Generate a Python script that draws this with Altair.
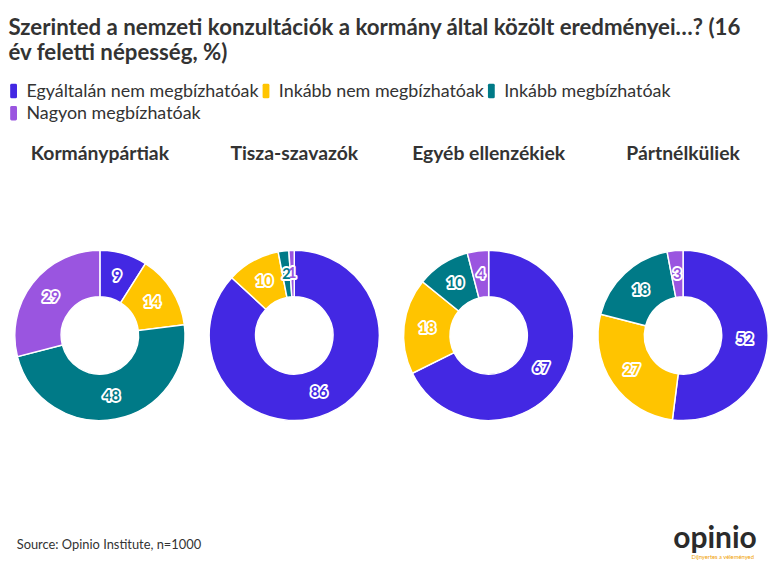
import altair as alt
import pandas as pd

groups = ["Kormánypártiak", "Tisza-szavazók", "Egyéb ellenzékiek", "Pártnélküliek"]
categories = ["Egyáltalán nem megbízhatóak", "Inkább nem megbízhatóak",
              "Inkább megbízhatóak", "Nagyon megbízhatóak"]
colors = ["#4328e3", "#ffc400", "#007a87", "#9a55e0"]
values_korm = [9, 14, 48, 29]
values_tisza = [86, 10, 2, 1]
values_ellenzek = [67, 18, 10, 4]
values_partnelkul = [52, 27, 18, 3]
all_values = [values_korm, values_tisza, values_ellenzek, values_partnelkul]

title_lines = ["Szerinted a nemzeti konzultációk a kormány által közölt eredményei…? (16",
               "év feletti népesség, %)"]
source_text = "Source: Opinio Institute, n=1000"
logo_text = "opinio"

FONT = "Lato"
color_scale = alt.Scale(domain=categories, range=colors)
# rounded tall rectangle, coordinates in the [-1, 1] box (shifted left)
legend_shape = ("M-1.0,-0.8 Q-1.0,-1 -0.8,-1 L-0.26,-1 Q-0.06,-1 -0.06,-0.8 "
                "L-0.06,0.8 Q-0.06,1 -0.26,1 L-0.8,1 Q-1.0,1 -1.0,0.8 Z")

panels = []
for gi, (g, vals) in enumerate(zip(groups, all_values)):
    df = pd.DataFrame({"category": categories, "value": vals, "order": list(range(4))})
    base = alt.Chart(df).encode(
        theta=alt.Theta("value:Q", stack=True),
        order=alt.Order("order:Q"),
        color=alt.Color("category:N", scale=color_scale, sort=categories,
                        legend=alt.Legend(title=None, orient="none", legendX=-6.5, legendY=-174,
                                          direction="horizontal",
                                          columns=3, labelFontSize=18.5, labelFont=FONT,
                                          labelColor="#333333", symbolType=legend_shape,
                                          symbolSize=225, symbolStrokeWidth=0,
                                          labelLimit=400, columnPadding=2, rowPadding=4,
                                          labelOffset=0, padding=0) if gi == 0 else None),
    )
    arc = base.mark_arc(innerRadius=40, outerRadius=88, stroke="white", strokeWidth=1.5)
    halo = base.mark_text(radius=64, fontSize=15, fontWeight="bold", font=FONT,
                          stroke="white", strokeWidth=4, strokeJoin="round").encode(
        text=alt.Text("value:Q"))
    txt = base.mark_text(radius=64, fontSize=15, fontWeight="bold", font=FONT).encode(
        text=alt.Text("value:Q"))
    panel = alt.layer(arc, halo, txt).properties(
        width=176, height=176,
        title=alt.TitleParams(g, fontSize=20, fontWeight="bold", font=FONT,
                              color="#333333", anchor="middle", offset=86))
    panels.append(panel)

donuts = alt.hconcat(*panels, spacing=19)

footer_df = pd.DataFrame({"label": [source_text]})
footer_src = alt.Chart(footer_df).mark_text(align="left", baseline="middle", fontSize=13.3,
                                            font=FONT, color="#333333").encode(
    x=alt.value(2), y=alt.value(10), text="label:N")
logo_df = pd.DataFrame({"label": [logo_text]})
footer_logo = alt.Chart(logo_df).mark_text(align="center", baseline="middle", fontSize=31,
                                           fontWeight="bold", font=FONT,
                                           color="#2b2b2b").encode(
    x=alt.value(724), y=alt.value(4), text="label:N")
tag_df = pd.DataFrame({"label": ["Díjnyertes a véleményed"]})
footer_tag = alt.Chart(tag_df).mark_text(align="center", baseline="middle", fontSize=6,
                                         font=FONT, color="#f0a000").encode(
    x=alt.value(732), y=alt.value(22), text="label:N")
footer = alt.layer(footer_src, footer_logo, footer_tag).properties(width=761, height=20)

chart = alt.vconcat(donuts, footer, spacing=104).properties(
    title=alt.TitleParams(title_lines, anchor="start", fontSize=23, fontWeight="bold",
                          font=FONT, color="#333333", lineHeight=26, offset=18),
    padding={"left": 0, "top": 0, "right": 2, "bottom": 2},
).configure_view(stroke=None)

chart.save("out.html", embed_options={"renderer": "svg", "actions": False})
